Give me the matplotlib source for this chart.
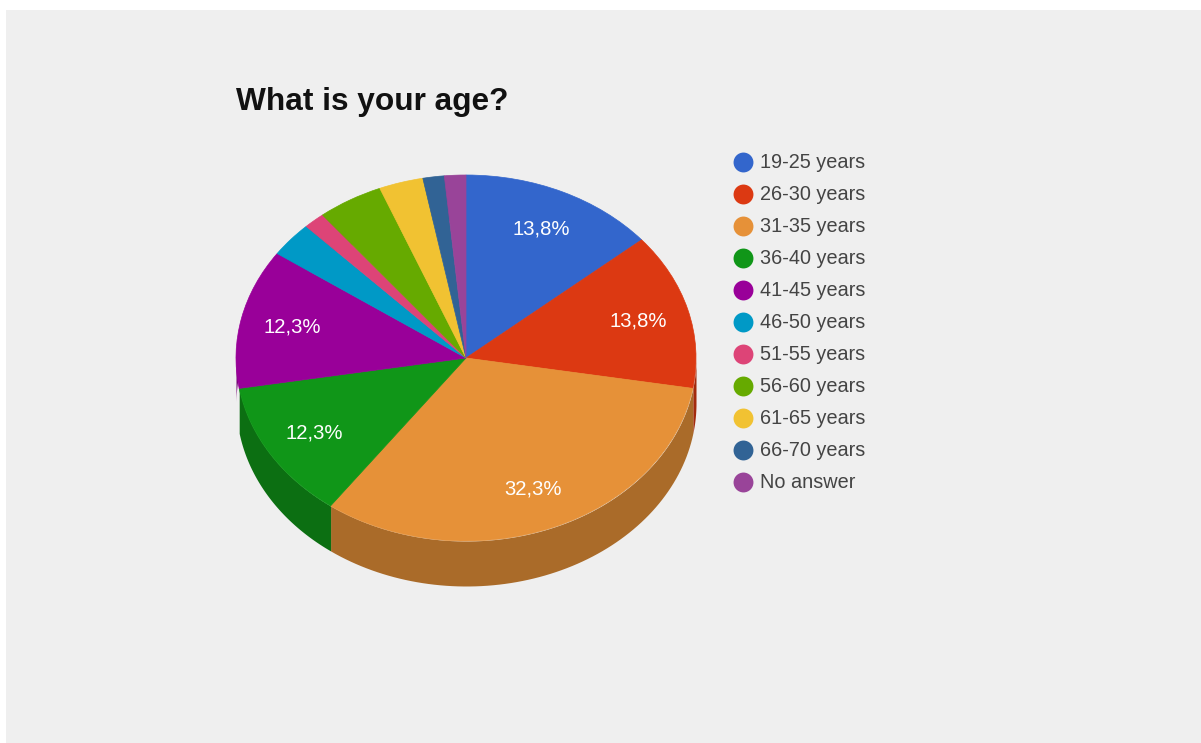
import numpy as np
import matplotlib
matplotlib.use('Agg')
import matplotlib.pyplot as plt
from matplotlib.patches import Rectangle
from matplotlib.colors import to_rgb

plt.rcParams['font.family'] = ['Liberation Sans', 'DejaVu Sans']

title = 'What is your age?'
categories = ['19-25 years', '26-30 years', '31-35 years', '36-40 years', '41-45 years',
              '46-50 years', '51-55 years', '56-60 years', '61-65 years', '66-70 years',
              'No answer']
percents = [13.8, 13.8, 32.3, 12.3, 12.3, 3.1, 1.5, 4.6, 3.1, 1.5, 1.5]
colors = ['#3366cc', '#dc3912', '#e69138', '#109618', '#990099', '#0099c6',
          '#dd4477', '#66aa00', '#f1c232', '#316395', '#994499']

W, H = 1201, 743
DEPTH = 45 / 183  # thickness of the pie, in radii


def side_color(c):
    return tuple(v * 0.74 for v in to_rgb(c))


fig = plt.figure(figsize=(W / 100, H / 100), dpi=100, facecolor='white')

# page layer in pixel units
page = fig.add_axes([0, 0, 1, 1])
page.set_xlim(0, W)
page.set_ylim(H, 0)
page.axis('off')
page.add_patch(Rectangle((6, 10), W - 6, H - 10, facecolor='#efefef', edgecolor='none'))
page.text(236, 110, title, fontsize=22.8, fontweight='bold', color='#111111', va='baseline')

for i, (name, c) in enumerate(zip(categories, colors)):
    y = 162 + 32 * i
    page.scatter([742.5], [y], s=205, color=c, linewidths=0)
    page.text(760, y + 1, name, fontsize=14.3, color='#444444', va='center')

# pie layer: unit radius, squashed by the axes box
left, right, top, bottom = 236, 696, 175, 541 + 45
ax = fig.add_axes([left / W, 1 - bottom / H, (right - left) / W, (bottom - top) / H])
wedges, _, autotexts = ax.pie(percents, colors=colors, startangle=90, counterclock=False,
                              radius=1, autopct='%.1f', pctdistance=0.775,
                              textprops={'fontsize': 14.6, 'color': 'white'})
for w in wedges:
    w.set_edgecolor(w.get_facecolor())
    w.set_linewidth(0.5)
    w.set_zorder(3)
for t, p in zip(autotexts, percents):
    # small slices stay unlabelled
    t.set_text(f'{p:.1f}%'.replace('.', ',') if p > 10 else '')
    t.set_zorder(4)
ax.set_aspect('auto')
ax.set_xlim(-1, 1)
ax.set_ylim(-1 - DEPTH, 1)
ax.patch.set_alpha(0)

# outer wall, only the lower half of the rim shows
edges = 90 - 360 * np.cumsum([0] + percents) / sum(percents)
for a0, a1, c in zip(edges[:-1], edges[1:], colors):
    lo, hi = max(a1, -180), min(a0, 0)
    if a1 < -180:
        lo, hi = a1, min(a0, -180)
    if lo >= hi:
        continue
    th = np.radians(np.linspace(lo, hi, 80))
    ax.fill_between(np.cos(th), np.sin(th), np.sin(th) - DEPTH,
                    color=side_color(c), linewidth=0, zorder=2)

fig.savefig('out.png', dpi=100, facecolor=fig.get_facecolor())
